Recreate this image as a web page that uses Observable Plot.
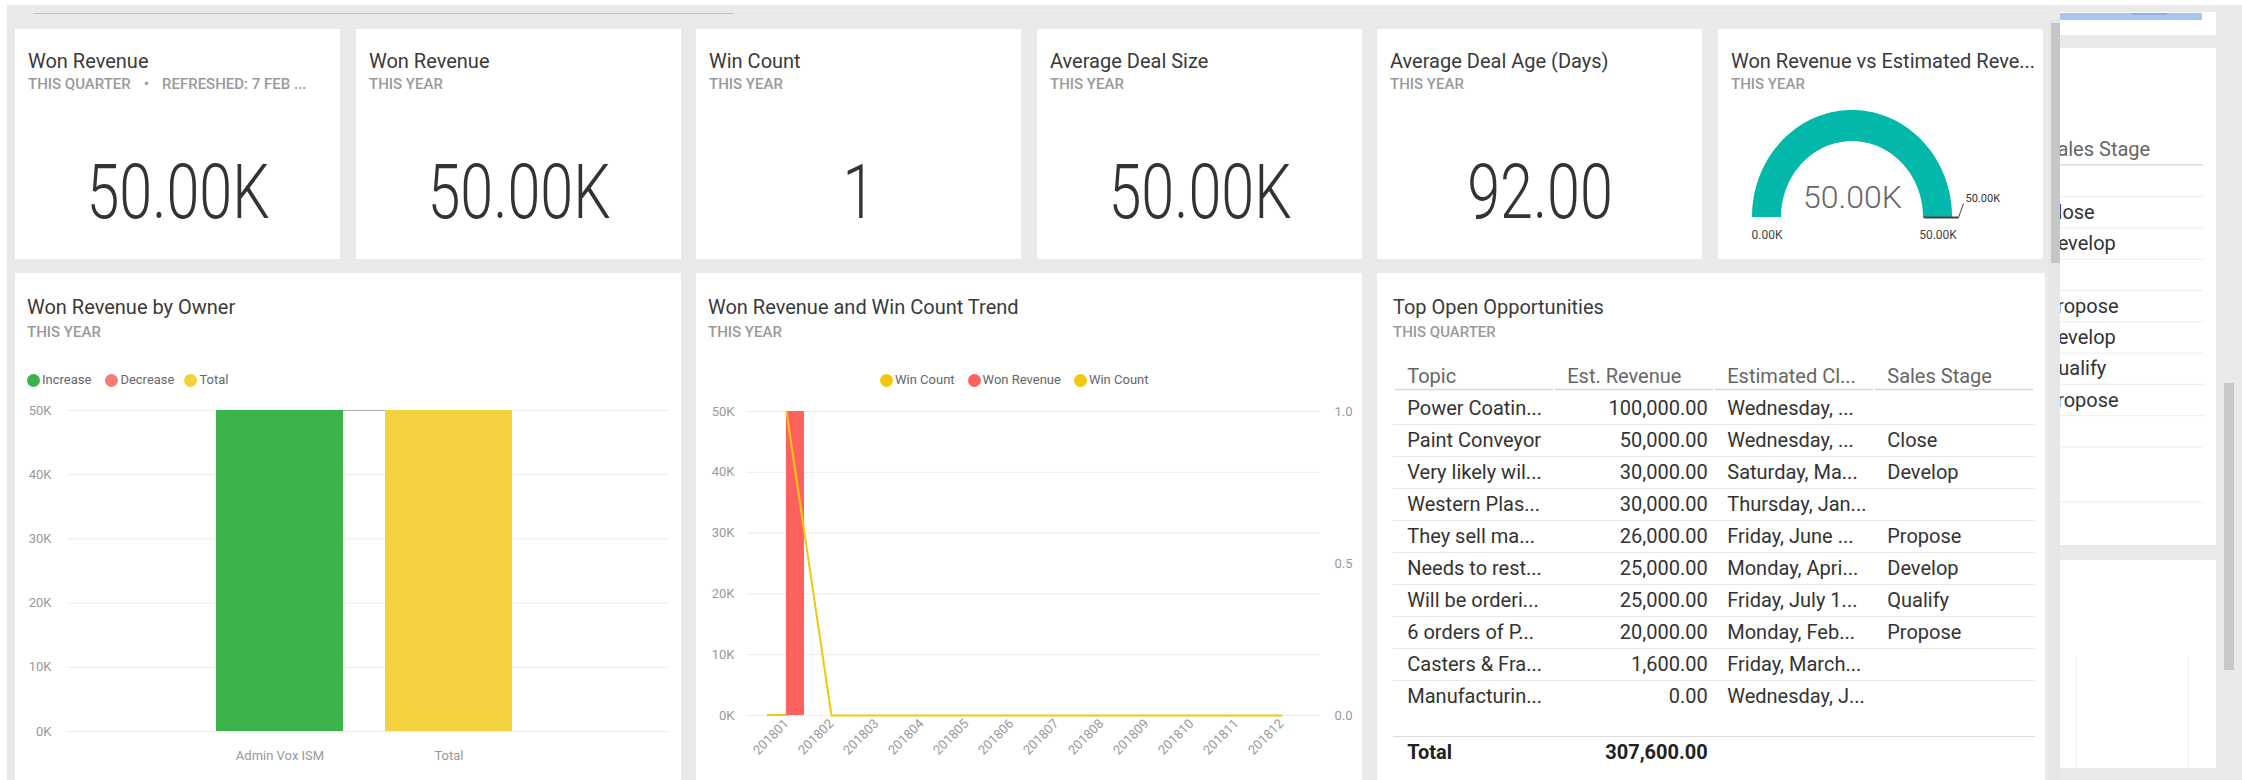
<!DOCTYPE html>
<html><head><meta charset="utf-8">
<script src="https://cdn.jsdelivr.net/npm/d3@7"></script>
<script src="https://cdn.jsdelivr.net/npm/@observablehq/plot@0.6"></script>
<style>
html,body{margin:0;padding:0;}
body{width:2242px;height:780px;overflow:hidden;position:relative;background:#fff;font-family:Roboto,"Noto Sans",sans-serif;}
.blk{position:absolute;}
.tile{position:absolute;background:#fff;overflow:hidden;}
.title{position:absolute;font-size:20px;line-height:24px;color:#3a3a3a;white-space:nowrap;font-weight:400;}
.sub{position:absolute;font-size:15px;line-height:16px;color:#9a9a9a;font-weight:500;white-space:nowrap;}
.chart{position:absolute;}
.legend{position:absolute;font-size:13px;line-height:14px;color:#666;display:flex;align-items:center;white-space:nowrap;}
.legend .item{display:flex;align-items:center;}
.legend .dot{display:inline-block;width:13px;height:13px;border-radius:50%;margin-right:2px;}
</style>
</head><body>
<script>
// ---------------- DATA ----------------
const cardTitles = ["Won Revenue","Won Revenue","Win Count","Average Deal Size","Average Deal Age (Days)","Won Revenue vs Estimated Reve..."];
const cardSubtitles = [["THIS QUARTER","REFRESHED: 7 FEB ..."],["THIS YEAR"],["THIS YEAR"],["THIS YEAR"],["THIS YEAR"],["THIS YEAR"]];
const cardValues = [50000, 50000, 1, 50000, 92];
const cardFormats = ["k","k","int","k","fixed"];

const gaugeValue = 50000, gaugeMin = 0, gaugeMax = 50000, gaugeTarget = 50000;

const ownerNames = ["Admin Vox ISM"];
const ownerDeltas = [50000];
const totalLabel = "Total";
const waterfallLegend = ["Increase","Decrease","Total"];
const waterfallColors = ["#3db34b","#fb7a76","#f4d13f"];

const months = ["201801","201802","201803","201804","201805","201806","201807","201808","201809","201810","201811","201812"];
const monthRevenue = [50000,0,0,0,0,0,0,0,0,0,0,0];
const monthWinCount = [1,0,0,0,0,0,0,0,0,0,0,0];
const trendLegend = ["Win Count","Won Revenue","Win Count"];
const trendColors = ["#f2c80f","#fd625e","#f2c80f"];
const revenueAxisMax = 50000, countAxisMax = 1;
const countTicks = [0, 0.5, 1];

const tableColumns = ["Topic","Est. Revenue","Estimated Cl...","Sales Stage"];
const topics = ["Power Coatin...","Paint Conveyor","Very likely wil...","Western Plas...","They sell ma...","Needs to rest...","Will be orderi...","6 orders of P...","Casters & Fra...","Manufacturin..."];
const estRevenue = [100000,50000,30000,30000,26000,25000,25000,20000,1600,0];
const closeDates = ["Wednesday, ...","Wednesday, ...","Saturday, Ma...","Thursday, Jan...","Friday, June ...","Monday, Apri...","Friday, July 1...","Monday, Feb...","Friday, March...","Wednesday, J..."];
const salesStages = ["","Close","Develop","","Propose","Develop","Qualify","Propose","",""];

// ---------------- HELPERS ----------------
const FONT = "Roboto, 'Noto Sans', sans-serif";
function div(cls, css, parent, html) {
  const d = document.createElement("div");
  if (cls) d.className = cls;
  Object.assign(d.style, css || {});
  if (html != null) d.innerHTML = html;
  (parent || document.body).appendChild(d);
  return d;
}
function px(o){const r={};for(const k in o)r[k]=typeof o[k]==="number"?o[k]+"px":o[k];return r;}
function place(svg, parent, left, top) {
  const w = div("chart", px({left, top}), parent);
  w.appendChild(svg);
  return svg;
}
function condense(nodes, k) {
  nodes.forEach(t => {
    const tr = t.getAttribute("transform");
    if (tr) t.setAttribute("transform", tr + ` scale(${k},1)`);
    else {
      const x = t.getAttribute("x") || 0, y = t.getAttribute("y") || 0;
      t.setAttribute("transform", `translate(${x},${y}) scale(${k},1)`);
      t.removeAttribute("x"); t.removeAttribute("y");
    }
  });
}
const fmtK = v => (v / 1000).toFixed(2) + "K";
const fmtCard = (v, f) => f === "k" ? fmtK(v) : f === "int" ? String(v) : v.toFixed(2);
const fmtMoney = d3.format(",.2f");
const baseStyle = {fontFamily: FONT, fontSize: "13px", color: "#999", background: "transparent", overflow: "visible"};

// ---------------- BACKGROUND ----------------
div("blk", px({left: 7, top: 5, width: 2235, height: 775, background: "#eaeaea"}));
div("blk", px({left: 33, top: 13, width: 700, height: 1, background: "#93d5cb"}));
div("blk", px({left: 733, top: 13, width: 1320, height: 1, background: "#dfe6ea"}));
// right partial panel
div("blk", px({left: 2060, top: 12, width: 156, height: 23, background: "#fff"}));
div("blk", px({left: 2060, top: 13, width: 142, height: 7, background: "#a9c6ef"}));
div("blk", px({left: 2132, top: 13, width: 35, height: 2, background: "#8fb0e0"}));
const rp = div("blk", px({left: 2060, top: 48, width: 156, height: 497, background: "#fff", overflow: "hidden"}));
const rp2 = div("blk", px({left: 2060, top: 560, width: 156, height: 208, background: "#fff"}));
div("blk", px({left: 16, top: 97, width: 1, height: 111, background: "#f1f1f1"}), rp2);
div("blk", px({left: 128, top: 97, width: 1, height: 111, background: "#f1f1f1"}), rp2);
div("blk", px({left: 2224, top: 383, width: 10, height: 287, background: "#c8c8c8"}));

// ---------------- TOP CARDS ----------------
const topLefts = [15, 356, 696, 1037, 1377, 1718];
const topTiles = topLefts.map((l, i) => {
  const t = div("tile", px({left: l, top: 29, width: 325, height: 230}));
  div("title", px({left: 13, top: 20}), t, cardTitles[i]);
  const s = cardSubtitles[i];
  div("sub", px({left: 13, top: 47}), t, s.length > 1 ? `${s[0]}<span style="margin:0 13px">•</span>${s[1]}` : s[0]);
  return t;
});
cardValues.forEach((v, i) => {
  const svg = Plot.plot({
    width: 325, height: 128, margin: 0, style: baseStyle,
    marks: [Plot.text([v], {text: d => fmtCard(d, cardFormats[i]), frameAnchor: "middle", fontSize: 76, fontWeight: 300, fill: "#333", fontFamily: FONT})]
  });
  place(svg, topTiles[i], 0, 100);
  condense(svg.querySelectorAll("text"), 0.78);
});

// gauge
{
  const innerR = 0.71, n = 90;
  const frac = (gaugeValue - gaugeMin) / (gaugeMax - gaugeMin);
  const band = f => d3.range(n + 1).map(k => {
    const a = Math.PI - Math.PI * f * k / n;
    return {xo: Math.cos(a), yo: Math.sin(a), xi: innerR * Math.cos(a), yi: innerR * Math.sin(a)};
  });
  const ta = Math.PI - Math.PI * (gaugeTarget - gaugeMin) / (gaugeMax - gaugeMin);
  const tOut = 1.06;
  const needle = [{x1: innerR * Math.cos(ta), y1: innerR * Math.sin(ta), x2: tOut * Math.cos(ta), y2: tOut * Math.sin(ta)}];
  const leader = [{x1: needle[0].x2, y1: needle[0].y2, x2: needle[0].x2 + 0.05, y2: needle[0].y2 + 0.13}];
  const mid = (1 + innerR) / 2;
  const svg = Plot.plot({
    width: 325, height: 159, style: baseStyle,
    x: {domain: [-1, 1], range: [34, 234], axis: null},
    y: {domain: [0, 1], range: [117, 10], axis: null},
    marks: [
      Plot.area(band(1), {x1: "xo", y1: "yo", x2: "xi", y2: "yi", fill: "#e9e9e9"}),
      Plot.area(band(frac), {x1: "xo", y1: "yo", x2: "xi", y2: "yi", fill: "#01b8aa"}),
      Plot.link(needle, {x1: "x1", y1: "y1", x2: "x2", y2: "y2", stroke: "#444", strokeWidth: 2}),
      Plot.link(leader, {x1: "x1", y1: "y1", x2: "x2", y2: "y2", stroke: "#444", strokeWidth: 1}),
      Plot.text([gaugeMin], {x: () => -mid, y: () => 0, dy: 18, text: d => fmtK(d), fill: "#444", fontSize: 12, fontFamily: FONT}),
      Plot.text([gaugeMax], {x: () => mid, y: () => 0, dy: 18, text: d => fmtK(d), fill: "#444", fontSize: 12, fontFamily: FONT}),
      Plot.text([gaugeTarget], {x: () => leader[0].x2 + 0.02, y: () => leader[0].y2 + 0.05, text: d => fmtK(d), textAnchor: "start", fill: "#333", fontSize: 11, fontFamily: FONT}),
      Plot.text([gaugeValue], {x: () => 0, y: () => 0.18, text: d => fmtK(d), fill: "#666", fontSize: 32, fontWeight: 300, fontFamily: FONT, ariaLabel: "gauge-value"})
    ]
  });
  place(svg, topTiles[5], 0, 71);
  condense(svg.querySelectorAll('g[aria-label="gauge-value"] text'), 0.8);
}

// ---------------- BOTTOM TILES ----------------
const botLefts = [15, 696, 1377];
const botTitles = [["Won Revenue by Owner","THIS YEAR"],["Won Revenue and Win Count Trend","THIS YEAR"],["Top Open Opportunities","THIS QUARTER"]];
const botTiles = botLefts.map((l, i) => {
  const t = div("tile", px({left: l, top: 273, width: i === 2 ? 668 : 666, height: 520}));
  const tl = i === 2 ? 16 : 12;
  div("title", px({left: tl, top: 22}), t, botTitles[i][0]);
  div("sub", px({left: tl, top: 51}), t, botTitles[i][1]);
  return t;
});
function legend(parent, left, top, names, colors, gaps) {
  const lg = div("legend", px({left, top}), parent);
  names.forEach((nm, i) => {
    const it = div("item", i < names.length - 1 ? {marginRight: gaps[i] + "px"} : {}, lg);
    div("dot", {background: colors[i]}, it);
    const s = document.createElement("span"); s.textContent = nm; it.appendChild(s);
  });
}

// Waterfall
{
  legend(botTiles[0], 12, 100, waterfallLegend, waterfallColors, [14, 10]);
  let run = 0;
  const steps = ownerNames.map((o, i) => { const s = {cat: o, y1: run, y2: run + ownerDeltas[i], kind: ownerDeltas[i] >= 0 ? "Increase" : "Decrease"}; run += ownerDeltas[i]; return s; });
  const wf = [...steps, {cat: totalLabel, y1: 0, y2: run, kind: "Total"}];
  const cats = wf.map(d => d.cat);
  const yTicks = d3.ticks(0, 50000, 5);
  const svg = Plot.plot({
    width: 666, height: 385, marginTop: 15, marginBottom: 49, marginLeft: 52, marginRight: 13,
    style: baseStyle,
    x: {domain: cats, paddingInner: 0.25, paddingOuter: 0.9, align: 0.488, tickSize: 0, tickPadding: 19, label: null},
    y: {domain: [0, 50000], ticks: 5, tickSize: 0, tickPadding: 16, tickFormat: d => d / 1000 + "K", label: null},
    color: {domain: waterfallLegend, range: waterfallColors},
    marks: [
      Plot.ruleY(yTicks, {stroke: "#ececec"}),
      Plot.link(wf.slice(0, -1).map((d, i) => ({a: d.cat, b: wf[i + 1].cat, v: d.y2})), {x1: "a", x2: "b", y1: "v", y2: "v", stroke: "#aaa", strokeWidth: 1.2}),
      Plot.barY(wf, {x: "cat", y1: "y1", y2: "y2", fill: d => d.kind})
    ]
  });
  place(svg, botTiles[0], 0, 122);
}

// Trend combo
{
  legend(botTiles[1], 184, 100, trendLegend, trendColors, [13, 13]);
  const wB = 666, mL = 51, mR = 42;
  const bw = d3.scaleBand().domain(months).range([mL, wB - mR]).paddingInner(0.21).paddingOuter(0.415).bandwidth();
  const trend = months.map((m, i) => ({month: m, revenue: monthRevenue[i], count: monthWinCount[i]}));
  const yTicks = d3.ticks(0, revenueAxisMax, 5);
  const svg = Plot.plot({
    width: wB, height: 385, marginTop: 16, marginBottom: 65, marginLeft: mL, marginRight: mR,
    style: baseStyle,
    x: {domain: months, paddingInner: 0.21, paddingOuter: 0.415, tickSize: 0, tickPadding: 6, tickRotate: -45, label: null},
    y: {domain: [0, revenueAxisMax], ticks: 5, tickSize: 0, tickPadding: 13, tickFormat: d => d / 1000 + "K", label: null},
    marks: [
      Plot.ruleY(yTicks, {stroke: "#ececec"}),
      Plot.barY(trend.filter(d => d.count > 0), {x: "month", y: "count", fill: trendColors[0], stroke: trendColors[0], strokeWidth: 2, insetRight: bw / 2}),
      Plot.barY(trend.filter(d => d.revenue > 0), {x: "month", y: "revenue", fill: trendColors[1], insetLeft: bw / 2}),
      Plot.line(trend, {x: "month", y: d => d.count / countAxisMax * revenueAxisMax, stroke: trendColors[2], strokeWidth: 2}),
      Plot.text(countTicks, {y: d => d / countAxisMax * revenueAxisMax, text: d => d.toFixed(1), frameAnchor: "right", textAnchor: "start", dx: 14, fill: "#999", fontSize: 13, fontFamily: FONT})
    ]
  });
  place(svg, botTiles[1], 0, 122);
}

// Table
{
  const wT = 668, mL = 16, mR = 10;
  const bw = (wT - mL - mR) / tableColumns.length;
  const rows = topics.map((t, i) => ({i, topic: t, rev: estRevenue[i], date: closeDates[i], stage: salesStages[i]}));
  const total = d3.sum(estRevenue);
  const txt = {fontSize: 20, fontFamily: FONT, fill: "#333"};
  const svg = Plot.plot({
    width: wT, height: 440, marginLeft: mL, marginRight: mR, marginTop: 0, marginBottom: 0,
    style: baseStyle,
    x: {domain: tableColumns, padding: 0, axis: null},
    y: {domain: [0, rows.length - 1], range: [53, 53 + 32 * (rows.length - 1)], axis: null},
    marks: [
      Plot.tickY(tableColumns, {x: d => d, y: () => -1, dy: 13, stroke: "#d6d6d6", strokeWidth: 1.5, insetLeft: 1, insetRight: 1}),
      Plot.ruleY(rows.slice(0, -1), {y: "i", dy: 16, stroke: "#e9e9e9"}),
      Plot.ruleY([rows.length], {y: d => d, dy: 8, stroke: "#dcdcdc"}),
      Plot.text(tableColumns, {x: d => d, y: () => -1, text: d => d, textAnchor: "start", dx: -bw / 2 + 13, ...txt, fill: "#666"}),
      Plot.text(rows, {x: () => tableColumns[0], y: "i", text: "topic", textAnchor: "start", dx: -bw / 2 + 13, ...txt}),
      Plot.text(rows, {x: () => tableColumns[1], y: "i", text: d => fmtMoney(d.rev), textAnchor: "end", dx: bw / 2 - 7, ...txt}),
      Plot.text(rows, {x: () => tableColumns[2], y: "i", text: "date", textAnchor: "start", dx: -bw / 2 + 13, ...txt}),
      Plot.text(rows, {x: () => tableColumns[3], y: "i", text: "stage", textAnchor: "start", dx: -bw / 2 + 13, ...txt}),
      Plot.text(["Total"], {x: () => tableColumns[0], y: () => rows.length, dy: 24, text: d => d, textAnchor: "start", dx: -bw / 2 + 13, ...txt, fontWeight: "bold", fill: "#222"}),
      Plot.text([total], {x: () => tableColumns[1], y: () => rows.length, dy: 24, text: d => fmtMoney(d), textAnchor: "end", dx: bw / 2 - 7, ...txt, fontWeight: "bold", fill: "#222"})
    ]
  });
  place(svg, botTiles[2], 0, 82);
}

// Right partial table (overflowing panel, clipped on its left edge)
{
  const svg = Plot.plot({
    width: 168, height: 497, marginLeft: 12, marginRight: 13, marginTop: 0, marginBottom: 0,
    style: baseStyle,
    y: {domain: [0, salesStages.length - 1], range: [132.5, 132.5 + 31.3 * (salesStages.length - 1)], axis: null},
    marks: [
      Plot.ruleY([-1], {y: d => d, dy: 15, stroke: "#dcdcdc", strokeWidth: 1.5}),
      Plot.ruleY(d3.range(salesStages.length - 1), {y: d => d, dy: 15.6, stroke: "#ececec"}),
      Plot.ruleY([salesStages.length], {y: d => d, dy: 8, stroke: "#ececec"}),
      Plot.text([tableColumns[3]], {y: () => -1, text: d => d, frameAnchor: "left", textAnchor: "start", dx: -15, fontSize: 20, fontFamily: FONT, fill: "#666"}),
      Plot.text(salesStages, {y: (d, i) => i, text: d => d, frameAnchor: "left", textAnchor: "start", dx: -16, fontSize: 20, fontFamily: FONT, fill: "#333"})
    ]
  });
  place(svg, rp, -12, 0);
}

// main scrollbar
div("blk", px({left: 2048, top: 20, width: 12, height: 760, background: "#e6e6e6"}));
div("blk", px({left: 2051, top: 23, width: 9, height: 240, background: "#c6c6c6"}));
</script>
</body></html>
